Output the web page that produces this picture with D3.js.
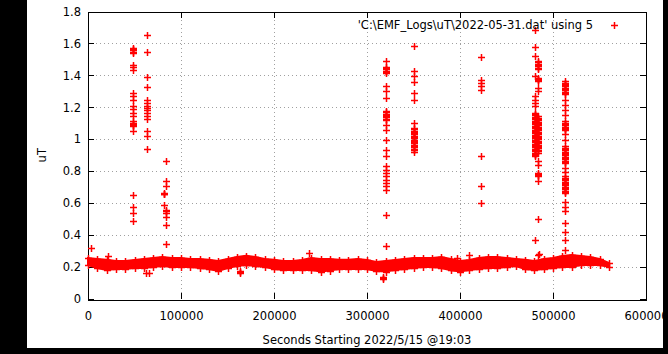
<!DOCTYPE html>
<html><head><meta charset="utf-8">
<script src="https://cdn.jsdelivr.net/npm/d3@7"></script>
<style>
html,body{margin:0;padding:0;background:#000;}
svg{display:block;}
text{font-family:"DejaVu Sans",Verdana,sans-serif;font-size:11.5px;fill:#000;}
</style></head>
<body>
<script>
// ---- data ----
const xTicks = [0,100000,200000,300000,400000,500000,600000];
const yTicks = [0,0.2,0.4,0.6,0.8,1,1.2,1.4,1.6,1.8];
const xTickLabels = ["0","100000","200000","300000","400000","500000","600000"];
const yTickLabels = ["0","0.2","0.4","0.6","0.8","1","1.2","1.4","1.6","1.8"];
const xTitle = "Seconds Starting 2022/5/15 @19:03";
const yTitle = "uT";
const legendText = "'C:\\EMF_Logs\\uT\\2022-05-31.dat' using 5";

// baseline band (upper / lower envelope), read every 10000 s
const baseX = [0,10000,20000,30000,40000,50000,60000,70000,80000,90000,
  100000,110000,120000,130000,140000,150000,160000,170000,180000,190000,
  200000,210000,220000,230000,240000,250000,260000,270000,280000,290000,
  300000,310000,320000,330000,340000,350000,360000,370000,380000,390000,
  400000,410000,420000,430000,440000,450000,460000,470000,480000,490000,
  500000,510000,520000,530000,540000,550000,560000];
const baseHi = [0.257,0.251,0.245,0.238,0.238,0.245,0.251,0.257,0.263,0.257,
  0.257,0.251,0.251,0.245,0.238,0.251,0.263,0.270,0.263,0.251,
  0.245,0.238,0.238,0.245,0.257,0.251,0.251,0.245,0.245,0.251,
  0.245,0.232,0.238,0.245,0.251,0.257,0.257,0.257,0.263,0.251,
  0.238,0.245,0.257,0.263,0.263,0.257,0.251,0.245,0.238,0.251,
  0.257,0.270,0.276,0.270,0.263,0.251,0.226];
const baseLo = [0.213,0.194,0.182,0.188,0.188,0.194,0.194,0.201,0.207,0.201,
  0.201,0.201,0.194,0.188,0.176,0.194,0.207,0.213,0.207,0.201,
  0.188,0.182,0.182,0.182,0.182,0.172,0.178,0.188,0.188,0.188,
  0.188,0.176,0.172,0.182,0.188,0.194,0.201,0.201,0.194,0.180,
  0.172,0.182,0.188,0.194,0.194,0.201,0.207,0.188,0.182,0.188,
  0.194,0.201,0.201,0.213,0.213,0.213,0.201];

// spike clusters: x position (s) and the readings in each
const spikeX = [48700, 63800, 81500, 83500, 320400, 350500, 422600, 480400, 483800, 512900];
const spikeVals = [
  [1.572,1.565,1.557,1.549,1.541,1.468,1.451,1.436,1.29,1.269,1.248,1.21,1.19,1.165,1.143,1.112,1.104,1.096,1.088,1.081,1.054,0.652,0.577,0.54,0.49],
  [1.65,1.547,1.39,1.33,1.248,1.227,1.21,1.196,1.181,1.165,1.143,1.127,1.049,1.018,0.941],
  [0.665,0.66,0.655,0.59],
  [0.861,0.736,0.709,0.555,0.548,0.54,0.516,0.464,0.345],
  [1.489,1.451,1.444,1.437,1.43,1.423,1.416,1.336,1.30,1.259,1.175,1.168,1.16,1.152,1.145,1.138,1.13,1.123,1.091,1.06,0.997,0.935,0.893,0.83,0.809,0.788,0.767,0.746,0.725,0.705,0.684,0.527,0.332],
  [1.587,1.426,1.394,1.359,1.29,1.248,1.104,1.07,1.062,1.054,1.046,1.038,1.03,1.022,1.014,1.006,0.998,0.99,0.982,0.974,0.966,0.958,0.95,0.942,0.935,0.918],
  [1.516,1.374,1.353,1.332,1.31,0.897,0.705,0.604],
  [1.687,1.579,1.52,1.394,1.27,1.248,1.227,1.206,1.165,1.157,1.149,1.141,1.133,1.125,1.117,1.109,1.101,1.093,1.085,1.077,1.069,1.061,1.053,1.045,1.037,1.029,1.021,1.013,1.005,0.997,0.989,0.981,0.973,0.965,0.957,0.949,0.941,0.933,0.925,0.917,0.909,0.901,0.893,0.37],
  [1.489,1.481,1.473,1.465,1.457,1.449,1.441,1.386,1.379,1.371,1.363,1.322,1.30,1.143,1.135,1.127,1.119,1.111,1.103,1.095,1.087,1.079,1.071,1.063,1.055,1.047,1.039,1.031,1.023,1.015,1.007,0.999,0.991,0.983,0.975,0.967,0.959,0.951,0.943,0.935,0.927,0.916,0.861,0.84,0.79,0.782,0.774,0.767,0.736,0.502,0.276],
  [1.363,1.355,1.347,1.339,1.331,1.323,1.315,1.307,1.299,1.291,1.283,1.248,1.217,1.185,1.154,1.112,1.104,1.096,1.088,1.08,1.072,1.064,1.06,1.03,0.997,0.955,0.947,0.939,0.931,0.923,0.915,0.907,0.899,0.891,0.883,0.875,0.867,0.859,0.851,0.82,0.798,0.767,0.759,0.751,0.743,0.735,0.727,0.719,0.711,0.703,0.695,0.687,0.679,0.671,0.663,0.61,0.579,0.548,0.477,0.42,0.37,0.307]
];

// isolated points near the baseline
const extraX = [3000, 21000, 62000, 65500, 163000, 163000, 163000, 237600, 317000, 317000, 317000, 397000, 410000, 485000];
const extraY = [0.32, 0.27, 0.163, 0.163, 0.165, 0.17, 0.175, 0.287, 0.125, 0.132, 0.14, 0.255, 0.276, 0.282];

// ---- drawing ----
const W = 668, H = 354;
const M = {left: 88, right: 646, top: 11.5, bottom: 299};
const red = "#f00";

const svg = d3.select("body").append("svg").attr("width", W).attr("height", H);
svg.append("rect").attr("x",0).attr("y",0).attr("width",W).attr("height",H).attr("fill","#000");
svg.append("rect").attr("x",27).attr("y",0).attr("width",636).attr("height",348).attr("fill","#fff");

const x = d3.scaleLinear().domain([0,600000]).range([M.left, M.right]);
const y = d3.scaleLinear().domain([0,1.8]).range([M.bottom, M.top]);

// grid
const grid = svg.append("g").attr("stroke","#a0a0a0").attr("stroke-width",1).attr("stroke-dasharray","1,3").attr("shape-rendering","crispEdges");
xTicks.slice(1,-1).forEach(t => {
  const px = Math.round(x(t)) + 0.5;
  grid.append("line").attr("x1",px).attr("x2",px).attr("y1",M.top).attr("y2",M.bottom);
});
yTicks.slice(1,-1).forEach(t => {
  const py = Math.round(y(t)) + 0.5;
  grid.append("line").attr("x1",M.left).attr("x2",M.right).attr("y1",py).attr("y2",py);
});

// axes
const xAxis = d3.axisBottom(x).tickValues(xTicks).tickFormat((d,i)=>xTickLabels[i]).tickSizeInner(-6).tickSizeOuter(0).tickPadding(13);
const yAxis = d3.axisLeft(y).tickValues(yTicks).tickFormat((d,i)=>yTickLabels[i]).tickSizeInner(-6).tickSizeOuter(0).tickPadding(7);
const xAxisTop = d3.axisTop(x).tickValues(xTicks).tickFormat("").tickSizeInner(-6).tickSizeOuter(0);
const yAxisRight = d3.axisRight(y).tickValues(yTicks).tickFormat("").tickSizeInner(-6).tickSizeOuter(0);

function styleAxis(g){
  g.select(".domain").remove();
  g.selectAll("line").attr("stroke","#000").attr("shape-rendering","crispEdges");
  g.selectAll("text").attr("font-family","DejaVu Sans, Verdana, sans-serif").attr("font-size",11.5).attr("fill","#000");
}
svg.append("g").attr("transform",`translate(0,${M.bottom})`).call(xAxis).call(styleAxis);
svg.append("g").attr("transform",`translate(${M.left},0)`).call(yAxis).call(styleAxis);
svg.append("g").attr("transform",`translate(0,${M.top})`).call(xAxisTop).call(styleAxis);
svg.append("g").attr("transform",`translate(${M.right},0)`).call(yAxisRight).call(styleAxis);

// frame
svg.append("rect").attr("x",M.left+0.5).attr("y",Math.round(M.top)+0.5)
  .attr("width",Math.round(M.right-M.left)).attr("height",Math.round(M.bottom-M.top))
  .attr("fill","none").attr("stroke","#000").attr("stroke-width",1).attr("shape-rendering","crispEdges");

// titles
svg.append("text").attr("x",(M.left+M.right)/2).attr("y",344).attr("text-anchor","middle").text(xTitle);
svg.append("text").attr("transform",`translate(46,${(M.top+M.bottom)/2}) rotate(-90)`).attr("text-anchor","middle").text(yTitle);

// baseline band area
const band = baseX.map((s,i)=>({s, hi: baseHi[i], lo: baseLo[i]}));
svg.append("path").datum(band)
  .attr("fill", red).attr("stroke", red).attr("stroke-width",2)
  .attr("d", d3.area().x(d=>x(d.s)).y0(d=>y(d.lo)).y1(d=>y(d.hi)));

// markers
const plus = "M-3.5,0H3.5M0,-3.5V3.5";
const pts = svg.append("g").attr("stroke",red).attr("stroke-width",1.5).attr("fill","none");
function mark(sx, v){
  pts.append("path").attr("d",plus)
    .attr("transform",`translate(${Math.round(x(sx))+0.5},${Math.round(y(v))+0.5})`);
}
band.forEach(d => { mark(d.s, d.hi); mark(d.s, d.lo); });
spikeX.forEach((s,i) => spikeVals[i].forEach(v => mark(s, v)));
extraX.forEach((s,i) => mark(s, extraY[i]));

// legend
svg.append("text").attr("x",593).attr("y",29).attr("text-anchor","end").text(legendText);
pts.append("path").attr("d",plus).attr("transform","translate(614.5,25.5)");
</script>
</body></html>
